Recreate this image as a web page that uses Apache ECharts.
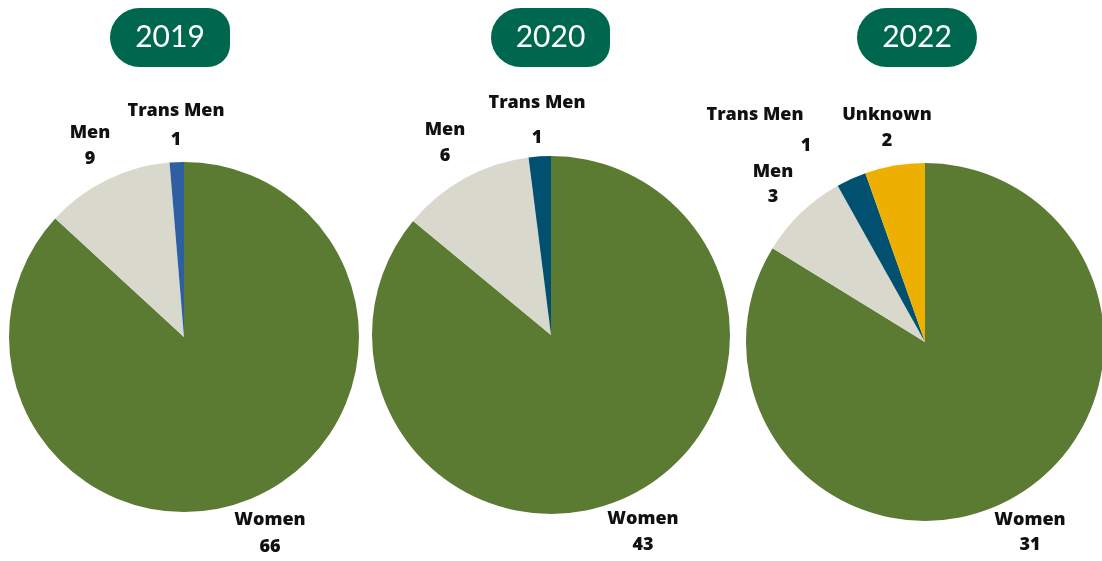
<!DOCTYPE html>
<html>
<head>
<meta charset="utf-8">
<script src="https://cdn.jsdelivr.net/npm/echarts@6/dist/echarts.min.js"></script>
<style>
  html, body { margin: 0; padding: 0; background: #ffffff; }
  #chart { width: 1102px; height: 561px; }
</style>
</head>
<body>
<div id="chart"></div>
<script>
// Survey respondents by gender, one pie per year
const years = ['2019', '2020', '2022'];
const groups = ['Women', 'Men', 'Trans Men', 'Unknown'];
const counts2019 = [66, 9, 1];
const counts2020 = [43, 6, 1];
const counts2022 = [31, 3, 1, 2];
const yearCounts = [counts2019, counts2020, counts2022];

const GREEN = '#5B7B33';
const STONE = '#D9D8CC';
const NAVY = '#01506F';
const MID_BLUE = '#2E5FA0';
const GOLD = '#EEB000';
const BADGE = '#00674F';

const sliceColors = [
  [GREEN, STONE, MID_BLUE, GOLD],
  [GREEN, STONE, NAVY, GOLD],
  [GREEN, STONE, NAVY, GOLD]
];

// pie geometry: [centerX, centerY, radius]
const pieGeom = [
  [184, 337, 175],
  [551, 335, 179],
  [925, 342, 179]
];

// label anchor per slice: x, y of the name line centre, gap to value line, sideways shift of value
const labelSpots = [
  [{ x: 270, y: 520, gap: 27, shift: 0 }, { x: 90, y: 133, gap: 26, shift: 0 }, { x: 176, y: 111, gap: 29, shift: 0 }],
  [{ x: 643, y: 519, gap: 26, shift: 0 }, { x: 445, y: 130, gap: 26, shift: 0 }, { x: 537, y: 103, gap: 35, shift: 0 }],
  [{ x: 1030, y: 520, gap: 25, shift: 0 }, { x: 773, y: 172, gap: 25, shift: 0 }, { x: 755, y: 115, gap: 31, shift: 51 }, { x: 887, y: 115, gap: 26, shift: 0 }]
];

// year badges: left edge x, right edge x
const badgeSpan = [[110, 230], [491, 610], [857, 977]];

const NAME_LH = 26;
const labelFont = '"Open Sans", "Liberation Sans", sans-serif';
const labelText = { fontFamily: labelFont, fontWeight: 800, fontSize: 18, color: '#111111', align: 'center' };

const series = yearCounts.map((counts, s) => {
  const g = pieGeom[s];
  const rich = { n: Object.assign({ lineHeight: NAME_LH }, labelText) };
  labelSpots[s].forEach((spot, i) => {
    rich['v' + i] = Object.assign({
      lineHeight: 2 * spot.gap - NAME_LH,
      padding: [0, 0, 0, spot.shift * 2]
    }, labelText);
  });
  return {
    type: 'pie',
    center: [g[0], g[1]],
    radius: [0, g[2]],
    startAngle: 90,
    clockwise: true,
    silent: true,
    animation: false,
    avoidLabelOverlap: false,
    itemStyle: { borderWidth: 0 },
    label: {
      show: true,
      position: 'outside',
      formatter: p => '{n|' + p.name + '}\n{v' + p.dataIndex + '|' + p.value + '}',
      rich: rich
    },
    labelLine: { show: false },
    labelLayout: p => {
      const spot = labelSpots[s][p.dataIndex];
      return { x: spot.x, y: spot.y - NAME_LH / 2, align: 'center', verticalAlign: 'top' };
    },
    data: counts.map((v, i) => ({ name: groups[i], value: v, itemStyle: { color: sliceColors[s][i] } }))
  };
});

const badges = years.map((yr, i) => {
  const [x0, x1] = badgeSpan[i];
  return {
    type: 'group',
    children: [
      { type: 'rect', shape: { x: x0, y: 8, width: x1 - x0, height: 59, r: [29.5, i < 2 ? 22 : 29.5, i < 2 ? 22 : 29.5, 29.5] }, style: { fill: BADGE } },
      { type: 'text', x: (x0 + x1) / 2, y: 37.5, style: { text: yr, fill: '#ffffff', font: '30px Lato, "Open Sans", sans-serif', textAlign: 'center', textVerticalAlign: 'middle' } }
    ]
  };
});

const chart = echarts.init(document.getElementById('chart'), null, { renderer: 'canvas' });
chart.setOption({
  backgroundColor: '#ffffff',
  animation: false,
  series: series,
  graphic: badges
});
</script>
</body>
</html>
